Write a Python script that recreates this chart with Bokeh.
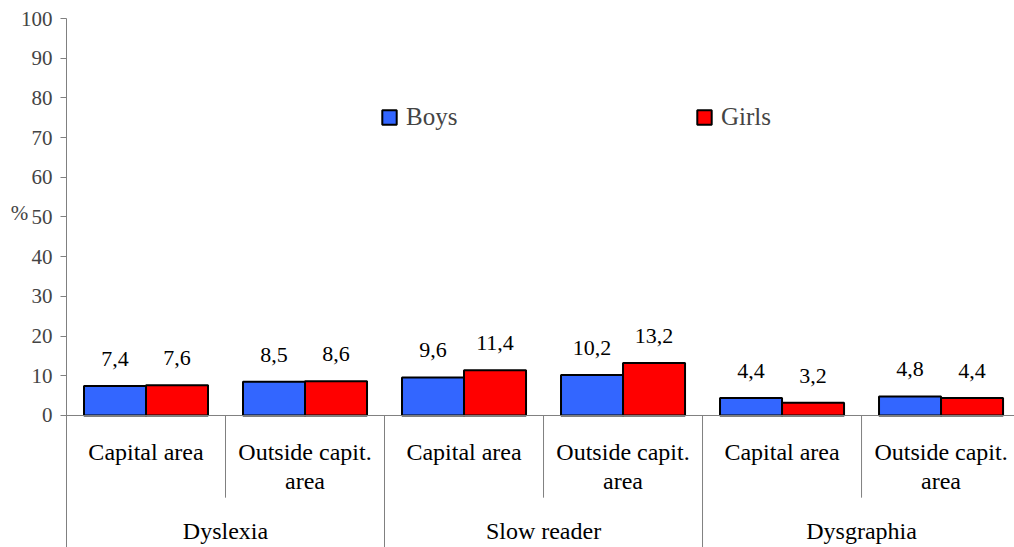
from bokeh.plotting import figure
from bokeh.models import ColumnDataSource, Legend, LegendItem, Span, Label, FixedTicker, Range1d, InlineStyleSheet
from bokeh.embed import file_html
from bokeh.resources import INLINE
from bokeh.core.properties import value

# ---- data ----
groups = ["Dyslexia", "Slow reader", "Dysgraphia"]
areas = ["Capital area", "Outside capit.\narea"]
boys = [7.4, 8.5, 9.6, 10.2, 4.4, 4.8]
girls = [7.6, 8.6, 11.4, 13.2, 3.2, 4.4]
series_names = ["Boys", "Girls"]
y_ticks = list(range(0, 101, 10))

FONT = "Liberation Serif"
BLUE = "#3366FF"
RED = "#FF0000"
GRAY = "#808080"

n_sub = len(groups) * len(areas)
centers = [i + 0.5 for i in range(n_sub)]
bw = 0.39
fmt = lambda v: ("%.1f" % v).replace(".", ",")

src_b = ColumnDataSource(dict(x=[c - bw / 2 for c in centers], top=boys, lab=[fmt(v) for v in boys]))
src_g = ColumnDataSource(dict(x=[c + bw / 2 for c in centers], top=girls, lab=[fmt(v) for v in girls]))

css = InlineStyleSheet(css=""":host { font-family: 'Liberation Serif', serif; }
:host text, :host * { font-family: 'Liberation Serif', serif !important; }""")

y0 = -33.25
p = figure(width=1014, height=547, output_backend="svg", toolbar_location=None,
           x_range=Range1d(0, 5.962), y_range=Range1d(y0, 100),
           x_axis_location=None, min_border_left=66, min_border_right=0,
           min_border_top=18, min_border_bottom=0,
           styles={"font-family": "'Liberation Serif', serif"}, stylesheets=[css])
p.outline_line_color = None
p.grid.visible = False

rb = p.vbar(x="x", top="top", width=bw, bottom=0, source=src_b, fill_color=BLUE, line_color="black", line_width=2)
rg = p.vbar(x="x", top="top", width=bw, bottom=0, source=src_g, fill_color=RED, line_color="black", line_width=2)

for s in (src_b, src_g):
    p.text(x="x", y="top", text="lab", source=s, text_align="center", text_baseline="alphabetic",
           y_offset=-27, text_font=value(FONT), text_font_size="22px")

# x axis line at 0
p.add_layout(Span(location=0, dimension="width", line_color=GRAY, line_width=1))

# category labels
sub_src = ColumnDataSource(dict(x=centers, y=[-6.0] * n_sub, t=[areas[i % len(areas)] for i in range(n_sub)]))
p.text(x="x", y="y", text="t", source=sub_src, text_align="center", text_baseline="top",
       text_font=value(FONT), text_font_size="24px", text_line_height=1.12)
grp_src = ColumnDataSource(dict(x=[len(areas) * g + len(areas) / 2 for g in range(len(groups))],
                                y=[-29.2] * len(groups), t=groups))
p.text(x="x", y="y", text="t", source=grp_src, text_align="center", text_baseline="middle",
       text_font=value(FONT), text_font_size="24px")

# separators
sub_sep = [len(areas) * g + 1 for g in range(len(groups))]
p.segment(x0=sub_sep, y0=[0] * len(sub_sep), x1=sub_sep, y1=[-20.7] * len(sub_sep), line_color=GRAY, line_width=1)
grp_sep = [len(areas) * g for g in range(1, len(groups) + 1)]
p.segment(x0=grp_sep, y0=[0] * len(grp_sep), x1=grp_sep, y1=[y0] * len(grp_sep), line_color=GRAY, line_width=1)

# y axis
ax = p.yaxis[0]
ax.ticker = FixedTicker(ticks=y_ticks)
ax.minor_tick_line_color = None
ax.major_tick_in = 0
ax.major_tick_out = 6
ax.major_tick_line_color = GRAY
ax.axis_line_color = GRAY
ax.major_label_text_font = FONT
ax.major_label_text_font_size = "21px"
ax.major_label_standoff = 8

p.add_layout(Label(x=19, x_units="screen", y=51.1, text="%", text_align="center", text_baseline="middle",
                   text_font=FONT, text_font_size="21px"), "left")

legend = Legend(items=[LegendItem(label=series_names[0], renderers=[rb]),
                       LegendItem(label=series_names[1], renderers=[rg])],
                orientation="horizontal", location=(314, 416), spacing=0, padding=0, margin=0,
                glyph_width=18, glyph_height=18, label_standoff=8, label_width=289,
                label_text_font=FONT, label_text_font_size="25px", label_text_baseline="middle",
                border_line_color=None, background_fill_alpha=0)
p.add_layout(legend)

open("out.html", "w").write(file_html(p, INLINE))
